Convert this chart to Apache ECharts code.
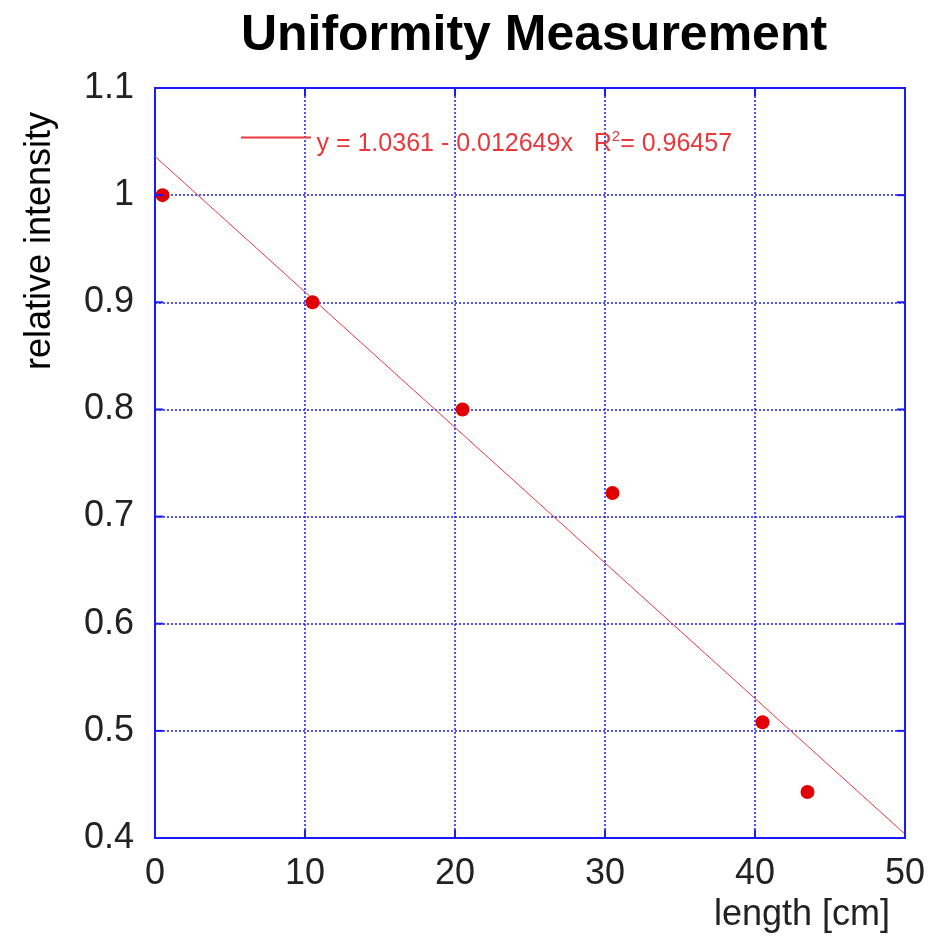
<!DOCTYPE html>
<html><head><meta charset="utf-8">
<script src="https://cdn.jsdelivr.net/npm/echarts@6/dist/echarts.min.js"></script>
<style>html,body{margin:0;padding:0;background:#fff}#c{width:938px;height:940px}</style>
</head><body><div id="c"></div>
<script>
const lengthCm = [0.5, 10.5, 20.5, 30.5, 40.5, 43.5];
const intensity = [1.0, 0.9, 0.8, 0.722, 0.508, 0.443];
const fitIntercept = 1.0361;
const fitSlope = -0.012649;
const fitRange = [0, 50];
const xTicks = [0, 10, 20, 30, 40, 50];
const yTicks = [0.4, 0.5, 0.6, 0.7, 0.8, 0.9, 1.0, 1.1];

const fitLine = fitRange.map(x => [x, fitIntercept + fitSlope * x]);
const blue = '#1a1aff';
const red = '#e00000';
const font = 'Liberation Sans, Arial, Helvetica, sans-serif';
const xMin = xTicks[0], xMax = xTicks[xTicks.length - 1];
const yMin = yTicks[0], yMax = yTicks[yTicks.length - 1];

const chart = echarts.init(document.getElementById('c'), null, {renderer: 'canvas'});
const gridLine = {show: true, lineStyle: {color: blue, width: 1.5, type: [2, 2]}};
// inside tick marks on all four frame sides, placed through the axis scales
const tickSeries = (data, size, offset) => ({
  type: 'scatter', data, symbol: 'rect', symbolSize: size, symbolOffset: offset,
  itemStyle: {color: blue, opacity: 1}, silent: true, z: 4, clip: false, emphasis: {disabled: true}
});

chart.setOption({
  animation: false,
  backgroundColor: '#fff',
  title: {
    text: 'Uniformity Measurement', left: 529, top: 6, textAlign: 'center',
    textStyle: {fontFamily: font, fontSize: 50, fontWeight: 'bold', color: '#000'}
  },
  grid: {left: 155, right: 33, top: 88, bottom: 102, show: true, borderColor: blue, borderWidth: 2, containLabel: false},
  legend: {
    left: 236, top: 124, itemWidth: 71, itemHeight: 16, itemGap: 0,
    icon: 'path://M0,0h70v2h-70z M0,16h0.01v0.01h-0.01z', data: ['fit'],
    formatter: () => 'y = 1.0361 - 0.012649x   R{sup|2}= 0.96457',
    textStyle: {fontFamily: font, fontSize: 25, color: '#e8383c',
      rich: {sup: {fontFamily: font, fontSize: 15, color: '#e8383c', verticalAlign: 'bottom', padding: [0, 0, 16, 0]}}}
  },
  xAxis: {
    type: 'value', min: xMin, max: xMax, interval: 10, position: 'bottom',
    axisLine: {show: false}, axisTick: {show: false},
    axisLabel: {fontFamily: font, fontSize: 36, color: '#222', margin: 18},
    splitLine: gridLine
  },
  yAxis: {
    type: 'value', min: yMin, max: yMax, interval: 0.1, position: 'left',
    axisLine: {show: false}, axisTick: {show: false},
    axisLabel: {fontFamily: font, fontSize: 36, color: '#222', margin: 21, padding: [0, 0, 17, 0],
      formatter: v => String(parseFloat(v.toFixed(2)))},
    splitLine: gridLine
  },
  graphic: [
    {type: 'text', left: 714, top: 897, style: {text: 'length [cm]', font: '36px ' + font, fill: '#222'}},
    {type: 'text', x: 40, y: 241, rotation: Math.PI / 2, style: {text: 'relative intensity', font: '36px ' + font, fill: '#000', align: 'center', verticalAlign: 'middle'}}
  ],
  series: [
    tickSeries(yTicks.map(y => [xMin, y]), [8, 2], [4, 0]),
    tickSeries(yTicks.map(y => [xMax, y]), [8, 2], [-4, 0]),
    tickSeries(xTicks.map(x => [x, yMin]), [2, 8], [0, -4]),
    tickSeries(xTicks.map(x => [x, yMax]), [2, 8], [0, 4]),
    {name: 'fit', type: 'line', data: fitLine, symbol: 'none', lineStyle: {color: '#e8383c', width: 1}, itemStyle: {color: '#e8383c'}, z: 2},
    {name: 'data', type: 'scatter', data: lengthCm.map((x, i) => [x, intensity[i]]), symbol: 'circle', symbolSize: 14, itemStyle: {color: red, opacity: 1}, z: 3}
  ]
});
</script></body></html>
